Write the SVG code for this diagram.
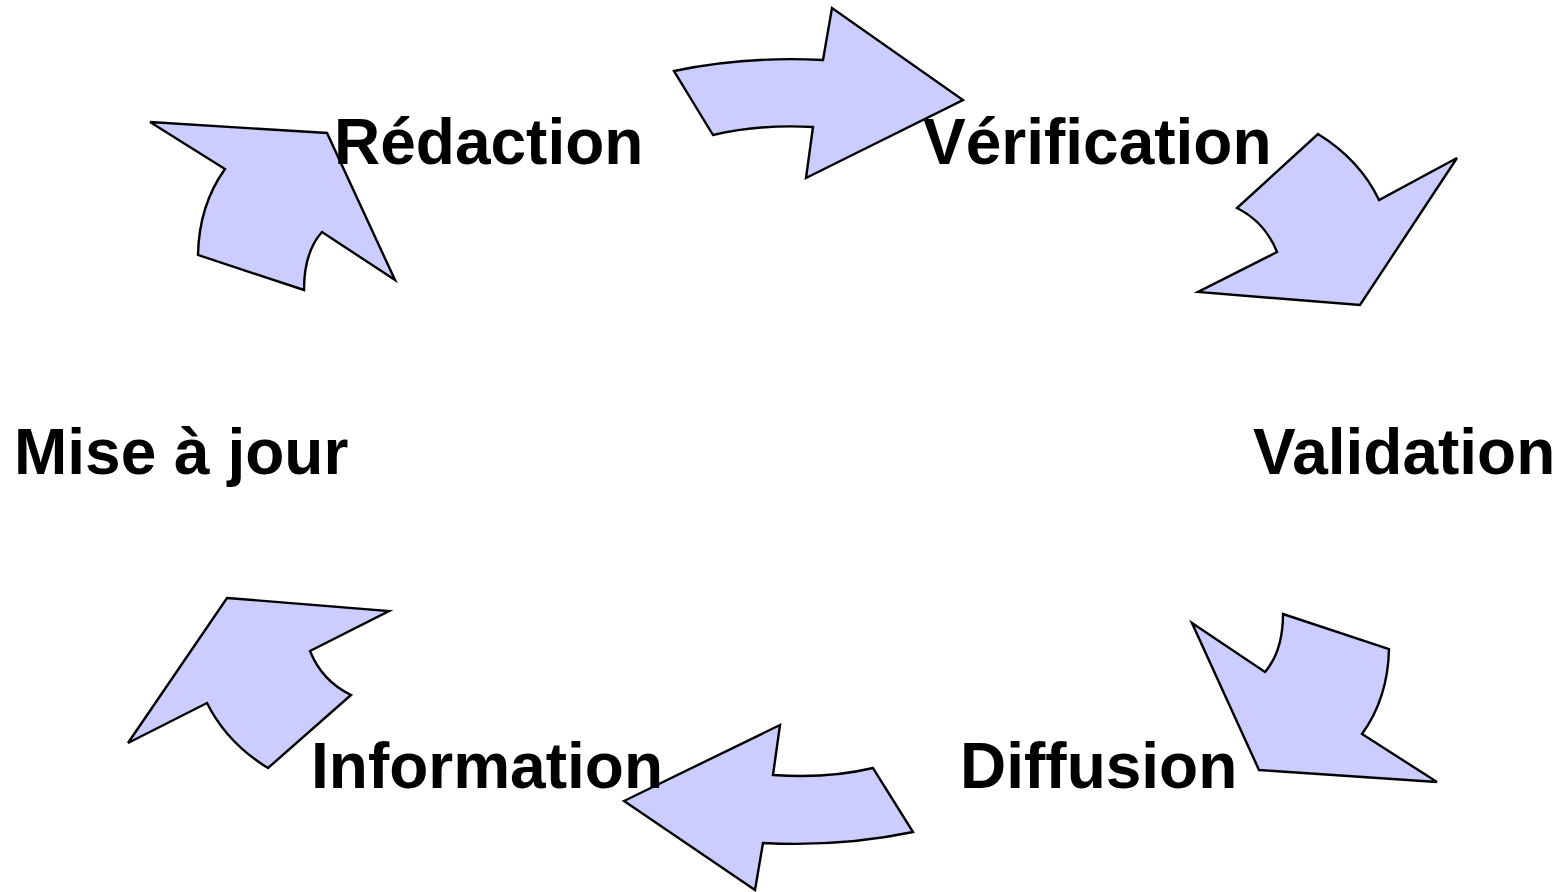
<svg xmlns="http://www.w3.org/2000/svg" width="1565" height="892" viewBox="0 0 1565 892">
<style>
.arr{fill:#CCCCFF;stroke:#000;stroke-width:2.4;stroke-linejoin:miter}
.lbl{font-family:"Liberation Sans",Arial,sans-serif;font-weight:bold;font-size:64px;fill:#000}
</style>
<rect width="1565" height="892" fill="#fff"/>
<g id="connectors">
<path class="arr" d="M674,71 Q745,56 823,60 L832,8 L963,100 L806,178 L813,127 Q760,124 713,135 Z"/>
<path class="arr" d="M1318,134 Q1360,160 1379,200 L1457,158 L1360,305 L1198,292 L1277,252 Q1265,222 1237,208 Z"/>
<path class="arr" d="M1192,623 L1265,672 Q1283,651 1283,614 L1389,649 Q1388,698 1362,734 L1437,782 L1259,770 Z"/>
<path class="arr" d="M624,801 L780,725 L773,775 Q827,779 873,768 L913,832 Q842,847 763,843 L755,890 Z"/>
<path class="arr" d="M227,598 L389,611 L310,651 Q322,681 351,695 L268,768 Q227,743 207,703 L128,743 Z"/>
<path class="arr" d="M150,122 L327,133 L395,280 L322,232 Q304,252 304,290 L198,255 Q199,205 225,169 Z"/>
</g>
<g id="node-redaction"><text class="lbl" x="334" y="164">Rédaction</text></g>
<g id="node-verification"><text class="lbl" x="923" y="164">Vérification</text></g>
<g id="node-validation"><text class="lbl" x="1253" y="474">Validation</text></g>
<g id="node-diffusion"><text class="lbl" x="960" y="788">Diffusion</text></g>
<g id="node-information"><text class="lbl" x="311" y="788">Information</text></g>
<g id="node-miseajour"><text class="lbl" x="14" y="474">Mise à jour</text></g>
</svg>
